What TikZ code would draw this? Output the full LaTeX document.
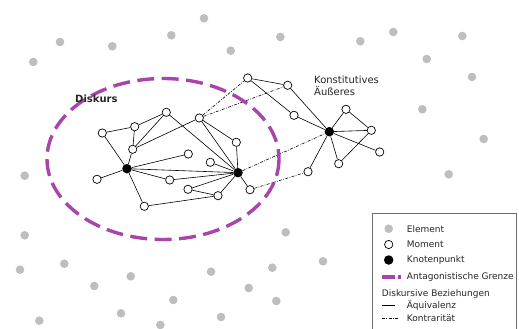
\documentclass[tikz,border=0pt]{standalone}
\usepackage{fontspec}
\setmainfont{DejaVu Sans}
\definecolor{elemgray}{RGB}{190,190,190}
\definecolor{grenze}{RGB}{168,68,172}
\definecolor{boxgray}{RGB}{110,110,110}
\begin{document}
\begin{tikzpicture}[x=1pt,y=-1pt,
  mom/.style={circle,draw=black,fill=white,line width=0.7pt,inner sep=0pt,minimum size=8.3pt},
  knot/.style={circle,fill=black,inner sep=0pt,minimum size=9.5pt},
  elem/.style={circle,fill=elemgray,inner sep=0pt,minimum size=8.6pt},
  equ/.style={line width=0.6pt},
  con/.style={line width=0.6pt,dash pattern=on 3pt off 1.4pt on 0.7pt off 1.4pt},
  grenzline/.style={draw=grenze,line width=3.4pt,dash pattern=on 17pt off 7.5pt},
  lab/.style={font=\fontsize{10}{12}\selectfont,text=black!85,inner sep=0pt,anchor=west},
  leg/.style={font=\fontsize{9}{11}\selectfont,text=black!85,inner sep=0pt,anchor=west}]
\useasboundingbox (0,0) rectangle (519,329);
% elements
\foreach \x/\y [count=\i] in {204/18.3,60/42,112.3/46.3,171.3/35.3,230.7/50.7,33.3/62,280.3/37,360.3/41.3,393.3/32,462.3/36,426.7/59,472/77,422.3/109.3,483.7/139,448.7/174.3,24.7/175.7,24.7/235.3,285.7/232.3,323/261.3,20/269.7,64.3/263.7,130.7/276.3,94.3/286,211/271.7,272.3/267.7,248.7/288,173.3/300,276.3/301,39.3/320.7,121/313.3,160.3/325,221/317}
  \node[elem] (e\i) at (\x,\y) {};
% moments and knots
\node[mom] (A) at (102.3,133) {};
\node[mom] (B) at (134.7,126.7) {};
\node[mom] (C) at (166.3,112.3) {};
\node[mom] (D) at (132.7,149.3) {};
\node[mom] (E) at (199.3,118) {};
\node[mom] (F) at (236.3,142.3) {};
\node[mom] (G) at (188.3,154) {};
\node[mom] (H) at (210.3,162.3) {};
\node[knot] (K1) at (127,168.7) {};
\node[knot] (K2) at (238,172.7) {};
\node[mom] (I) at (97,179.3) {};
\node[mom] (J) at (169.7,180) {};
\node[mom] (L) at (188,189.3) {};
\node[mom] (M) at (218,195.7) {};
\node[mom] (N) at (144.3,206.3) {};
\node[mom] (O) at (250,189.7) {};
\node[mom] (P) at (247.7,78) {};
\node[mom] (Q) at (287.7,85.3) {};
\node[mom] (R) at (294,115.3) {};
\node[knot] (K3) at (329.3,131.7) {};
\node[mom] (S) at (346,109.3) {};
\node[mom] (T) at (371.3,130.3) {};
\node[mom] (U) at (379.7,152) {};
\node[mom] (V) at (338.7,163.7) {};
\node[mom] (W) at (308,171.7) {};
% equivalence lines
\draw[equ] (A)--(B) (A)--(K1) (B)--(C) (B)--(D) (C)--(D) (C)--(K2) (D)--(E) (D)--(K1)
  (E)--(F) (E)--(K2) (F)--(K2) (K1)--(G) (K1)--(I) (K1)--(K2) (K1)--(J) (J)--(K2)
  (H)--(K2) (L)--(M) (L)--(K2) (M)--(K2) (K1)--(N) (N)--(M) (K2)--(O)
  (P)--(Q) (P)--(R) (Q)--(K3) (R)--(K3) (K3)--(S) (S)--(T) (K3)--(T) (K3)--(U)
  (T)--(V) (K3)--(V) (K3)--(W);
% contrariety lines
\draw[con] (E)--(P) (E)--(Q) (K2)--(K3) (O)--(W);
% antagonistic border
\draw[grenzline] (163,159) ellipse [x radius=116, y radius=80.5];
% labels
\node[lab,font=\fontsize{10}{12}\selectfont\bfseries] (dk) at (75,99) {Diskurs};
\node[lab,align=left,font=\fontsize{10}{12.4}\selectfont] (ka) at (314,85.5) {Konstitutives\\Äußeres};
% legend
\draw[boxgray,line width=0.8pt] (372,329.5) -- (372,213) -- (516,213) -- (516,329.5);
\node[elem] (le) at (388.7,228.7) {};
\node[leg] (lte) at (406.7,229) {Element};
\node[mom] (lm) at (388.7,244.5) {};
\node[leg] (ltm) at (406.7,244.7) {Moment};
\node[knot] (lk) at (388.7,260) {};
\node[leg] (ltk) at (406.7,260.5) {Knotenpunkt};
\coordinate (lg1) at (382,276.8);
\coordinate (lg2) at (395,276.8);
\coordinate (lg3) at (398,276.8);
\coordinate (lg4) at (400.5,276.8);
\draw[draw=grenze,line width=3.4pt] (lg1)--(lg2) (lg3)--(lg4);
\node[leg] (ltg) at (406.7,277) {Antagonistische Grenze};
\node[leg] (ltd) at (381.7,293.7) {Diskursive Beziehungen};
\coordinate (la1) at (382,305.5);
\coordinate (la2) at (395,305.5);
\draw[equ] (la1)--(la2);
\node[leg] (lta) at (406.7,305.5) {Äquivalenz};
\coordinate (lc1) at (382,318);
\coordinate (lc2) at (398,318);
\draw[con] (lc1)--(lc2);
\node[leg] (ltc) at (406.7,318) {Kontrarität};
\end{tikzpicture}
\end{document}
